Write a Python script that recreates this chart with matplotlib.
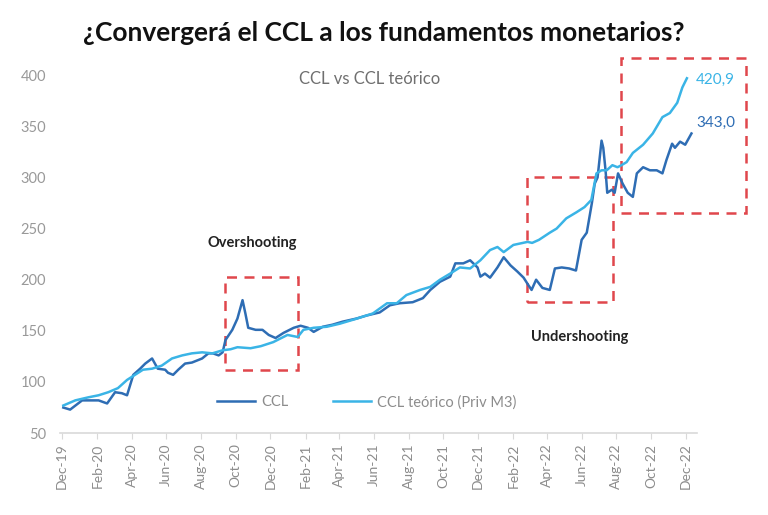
import numpy as np
import pandas as pd
import matplotlib
matplotlib.use("Agg")
import matplotlib.pyplot as plt
import matplotlib.dates as mdates
from matplotlib.patches import Rectangle

plt.rcParams['font.family'] = ['Lato', 'DejaVu Sans']

# CCL (observado)
ccl_dates = ["2019-12-03", "2019-12-15", "2020-01-05", "2020-02-03", "2020-02-18", "2020-03-03",
             "2020-03-15", "2020-03-24", "2020-04-04", "2020-04-16", "2020-04-25", "2020-05-07",
             "2020-05-12", "2020-05-17", "2020-05-30", "2020-06-04", "2020-06-13", "2020-06-22",
             "2020-07-04", "2020-07-16", "2020-08-03", "2020-08-14", "2020-08-22", "2020-09-01",
             "2020-09-08", "2020-09-13", "2020-09-25", "2020-10-04", "2020-10-13", "2020-10-18",
             "2020-10-23", "2020-11-05", "2020-11-17", "2020-11-28", "2020-12-10", "2020-12-24",
             "2021-01-11", "2021-01-23", "2021-02-05", "2021-02-15", "2021-03-03", "2021-03-20",
             "2021-04-07", "2021-05-01", "2021-05-19", "2021-06-11", "2021-06-29", "2021-07-16",
             "2021-08-08", "2021-08-26", "2021-09-08", "2021-09-25", "2021-10-13", "2021-10-22",
             "2021-11-05", "2021-11-17", "2021-11-30", "2021-12-05", "2021-12-13", "2021-12-22",
             "2022-01-04", "2022-01-15", "2022-01-27", "2022-02-08", "2022-02-19", "2022-02-27",
             "2022-03-05", "2022-03-13", "2022-03-24", "2022-04-06", "2022-04-15", "2022-04-27",
             "2022-05-10", "2022-05-22", "2022-06-01", "2022-06-10", "2022-06-19", "2022-06-24",
             "2022-06-29", "2022-07-06", "2022-07-09", "2022-07-13", "2022-07-16", "2022-07-24",
             "2022-07-29", "2022-08-04", "2022-08-12", "2022-08-21", "2022-08-30", "2022-09-06",
             "2022-09-17", "2022-09-29", "2022-10-11", "2022-10-21", "2022-10-28", "2022-11-07",
             "2022-11-12", "2022-11-21", "2022-11-30", "2022-12-11"]
ccl_vals = [75, 73, 82, 82, 79, 90,
            89, 87, 107, 113, 118, 123,
            118, 113, 112, 109, 107, 112,
            118, 119, 123, 128, 128, 126,
            129, 141, 151, 162, 180, 167,
            153, 151, 151, 146, 143, 148,
            153, 155, 153, 149, 154, 156,
            159, 162, 165, 168, 175, 177,
            178, 182, 190, 198, 203, 216,
            216, 219, 212, 203, 206, 202,
            212, 222, 214, 208, 202, 195,
            190, 200, 192, 190, 211, 212,
            211, 209, 239, 246, 275, 294,
            300, 336, 329, 307, 285, 288,
            285, 304, 294, 285, 281, 304,
            310, 307, 307, 304, 317, 333,
            329, 335, 332, 343]

# CCL teórico (Priv M3)
teo_dates = ["2019-12-03", "2019-12-24", "2020-01-16", "2020-02-03", "2020-02-20", "2020-03-08",
             "2020-03-24", "2020-04-07", "2020-04-21", "2020-05-07", "2020-05-24", "2020-06-11",
             "2020-06-29", "2020-07-16", "2020-08-03", "2020-08-21", "2020-09-08", "2020-09-22",
             "2020-10-04", "2020-10-27", "2020-11-14", "2020-12-06", "2020-12-31", "2021-01-18",
             "2021-01-28", "2021-02-15", "2021-03-10", "2021-04-02", "2021-05-02", "2021-05-30",
             "2021-06-24", "2021-07-11", "2021-07-28", "2021-08-21", "2021-09-08", "2021-09-25",
             "2021-10-13", "2021-10-30", "2021-11-17", "2021-12-05", "2021-12-22", "2022-01-04",
             "2022-01-15", "2022-02-01", "2022-02-26", "2022-03-06", "2022-03-18", "2022-04-06",
             "2022-04-18", "2022-05-05", "2022-05-23", "2022-06-06", "2022-06-18", "2022-06-27",
             "2022-07-06", "2022-07-15", "2022-07-25", "2022-08-03", "2022-08-10", "2022-08-19",
             "2022-08-30", "2022-09-17", "2022-10-04", "2022-10-21", "2022-11-03", "2022-11-16",
             "2022-11-25", "2022-12-03"]
teo_vals = [77, 82, 85, 87, 90, 94,
            102, 107, 112, 113, 116, 123,
            126, 128, 129, 128, 131, 132,
            134, 133, 135, 139, 146, 144,
            151, 153, 154, 157, 162, 167,
            177, 177, 185, 190, 193, 200,
            206, 212, 211, 219, 229, 232,
            227, 234, 237, 236, 239, 246,
            250, 260, 266, 271, 278, 304,
            307, 307, 312, 310, 312, 315,
            324, 332, 343, 359, 363, 373,
            388, 397]

ccl_last = "343,0"
teo_last = "420,9"

dark = "#2e6db4"
light = "#3ab4e6"
grey = "#8c8c8c"
red = "#e0474c"

fig = plt.figure(figsize=(7.68, 5.15), dpi=100)
ax = fig.add_axes([0.078, 0.159, 0.829, 0.695])

x1 = pd.to_datetime(ccl_dates)
x2 = pd.to_datetime(teo_dates)
ax.plot(x1, ccl_vals, color=dark, lw=1.8, label="CCL")
ax.plot(x2, teo_vals, color=light, lw=1.8, label="CCL teórico (Priv M3)")

ax.set_ylim(50, 400)
ax.set_yticks(range(50, 401, 50))
ax.set_xlim(pd.Timestamp("2019-11-27"), pd.Timestamp("2022-12-20"))
ax.xaxis.set_major_locator(mdates.MonthLocator(bymonth=[2, 4, 6, 8, 10, 12]))
ax.xaxis.set_major_formatter(mdates.DateFormatter("%b-%y"))
plt.setp(ax.get_xticklabels(), rotation=90)
ax.tick_params(axis="x", colors=grey, labelsize=10, length=4, color="#d9d9d9")
ax.tick_params(axis="y", colors="#999999", labelsize=10.5, length=0, pad=10)
for s in ["top", "right", "left"]:
    ax.spines[s].set_visible(False)
ax.spines["bottom"].set_color("#d9d9d9")
ax.spines["bottom"].set_linewidth(1.2)

leg = ax.legend(loc="lower center", bbox_to_anchor=(0.482, 0.03), ncol=2, frameon=False,
                fontsize=10.5, handlelength=2.6, columnspacing=3.1, handletextpad=0.4)
for t in leg.get_texts():
    t.set_color(grey)

# cajas
boxes = [("2020-09-12", "2021-01-19", 111.6, 202.5),
         ("2022-02-25", "2022-07-26", 178, 300.3),
         ("2022-08-09", "2023-03-17", 265, 416.6)]
for a, b, lo, hi in boxes:
    xa = mdates.date2num(pd.Timestamp(a))
    xb = mdates.date2num(pd.Timestamp(b))
    ax.add_patch(Rectangle((xa, lo), xb - xa, hi - lo, fill=False, ec=red, lw=1.8,
                           ls=(0, (4, 3)), clip_on=False))

ax.text(pd.Timestamp("2020-10-30"), 236, "Overshooting", fontsize=10.5, fontweight="bold",
        ha="center", va="center", color="#222222")
ax.text(pd.Timestamp("2022-05-28"), 144, "Undershooting", fontsize=10.5, fontweight="bold",
        ha="center", va="center", color="#222222")
ax.text(pd.Timestamp("2022-12-19"), 395, teo_last, fontsize=11, color=light, va="center")
ax.text(pd.Timestamp("2022-12-19"), 353, ccl_last, fontsize=11, color=dark, va="center")

fig.text(0.5, 0.935, "¿Convergerá el CCL a los fundamentos monetarios?", ha="center",
         va="center", fontsize=19, fontweight="bold", color="#111111")
ax.text(0.487, 0.99, "CCL vs CCL teórico", transform=ax.transAxes, ha="center", va="center",
        fontsize=12, color="#6f6f6f")

fig.savefig("out.png", dpi=100)
